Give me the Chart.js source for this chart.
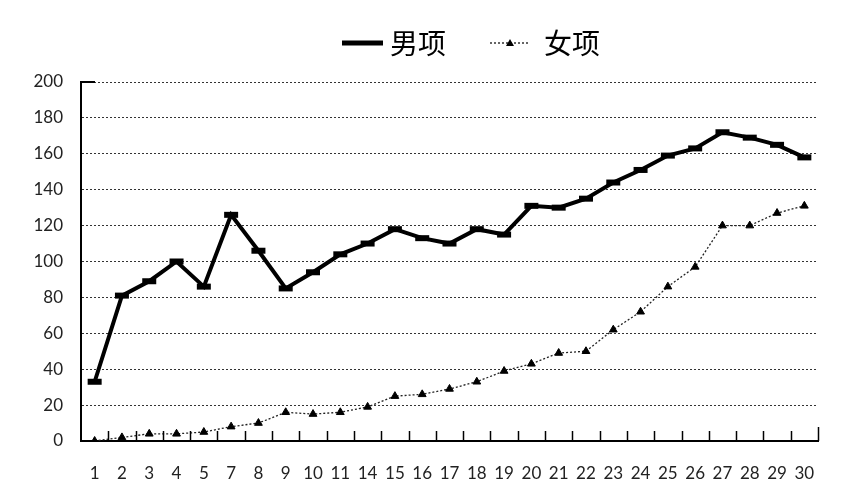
<!DOCTYPE html>
<html>
<head>
<meta charset="utf-8">
<script src="https://cdn.jsdelivr.net/npm/chart.js@4.4.1/dist/chart.umd.min.js"></script>
<style>
  body { margin: 0; background: #fff; }
  #wrap { width: 856px; height: 504px; }
</style>
</head>
<body>
<div id="wrap"><canvas id="chart"></canvas></div>
<script>
var categories = ['1', '2', '3', '4', '5', '7', '8', '9', '10', '11', '14', '15', '16', '17',
    '18', '19', '20', '21', '22', '23', '24', '25', '26', '27', '28', '29', '30'];
var menValues = [33, 81, 89, 100, 86, 126, 106, 85, 94, 104, 110, 118, 113, 110,
    118, 115, 131, 130, 135, 144, 151, 159, 163, 172, 169, 165, 158];
var womenValues = [0, 2, 4, 4, 5, 8, 10, 16, 15, 16, 19, 25, 26, 29,
    33, 39, 43, 49, 50, 62, 72, 86, 97, 120, 120, 127, 131];
var yTicks = [0, 20, 40, 60, 80, 100, 120, 140, 160, 180, 200];
var seriesNames = ['男项', '女项'];

// legend + small tick marks between categories
var extras = {
    id: 'extras',
    afterDraw: function (chart) {
        var ctx = chart.ctx;
        var area = chart.chartArea;
        var n = categories.length;
        var w = (area.right - area.left) / n;
        ctx.save();
        ctx.strokeStyle = '#000';
        ctx.lineWidth = 1.5;
        for (var i = 1; i <= n; i++) {
            var px = Math.round(area.left + i * w) + 0.5;
            ctx.beginPath();
            ctx.moveTo(px, area.bottom);
            ctx.lineTo(px, area.bottom - (i === n ? 14 : 10));
            ctx.stroke();
        }
        // top tick on y axis
        ctx.lineWidth = 2;
        ctx.beginPath();
        ctx.moveTo(area.left, area.top);
        ctx.lineTo(area.left + 14, area.top);
        ctx.stroke();

        // legend
        var ly = 43;
        ctx.lineWidth = 5;
        ctx.beginPath();
        ctx.moveTo(342, ly);
        ctx.lineTo(383, ly);
        ctx.stroke();
        ctx.font = '28px "Noto Sans CJK SC"';
        ctx.fillStyle = '#000';
        ctx.textBaseline = 'middle';
        ctx.fillText(seriesNames[0], 390, ly);

        ctx.lineWidth = 1.2;
        ctx.setLineDash([2, 2]);
        ctx.beginPath();
        ctx.moveTo(490, ly);
        ctx.lineTo(530, ly);
        ctx.stroke();
        ctx.setLineDash([]);
        ctx.beginPath();
        ctx.moveTo(510, ly - 4);
        ctx.lineTo(514, ly + 3);
        ctx.lineTo(506, ly + 3);
        ctx.closePath();
        ctx.fill();
        ctx.fillText(seriesNames[1], 544, ly);
        ctx.restore();
    }
};

var ctx = document.getElementById('chart').getContext('2d');
var chart = new Chart(ctx, {
    type: 'line',
    data: {
        labels: categories,
        datasets: [
            {
                label: seriesNames[0],
                data: menValues,
                borderColor: '#000',
                backgroundColor: '#000',
                borderWidth: 4,
                pointStyle: 'line',
                pointRadius: 7,
                pointBorderWidth: 6,
                pointBorderColor: '#000',
                tension: 0
            },
            {
                label: seriesNames[1],
                data: womenValues,
                borderColor: '#222',
                backgroundColor: '#000',
                borderWidth: 1.3,
                borderDash: [2, 2],
                pointStyle: 'triangle',
                pointRadius: 4.5,
                pointBorderWidth: 1,
                pointBorderColor: '#000',
                pointBackgroundColor: '#000',
                tension: 0
            }
        ]
    },
    options: {
        responsive: true,
        maintainAspectRatio: false,
        animation: false,
        layout: { padding: { top: 82, right: 38, bottom: 0, left: 0 } },
        plugins: {
            legend: { display: false },
            tooltip: { enabled: false }
        },
        scales: {
            x: {
                offset: true,
                grid: { display: false },
                border: { display: true, color: '#000', width: 2 },
                ticks: {
                    color: '#222',
                    font: { family: 'Lato', size: 17 },
                    padding: 14,
                    maxRotation: 0,
                    autoSkip: false
                },
                afterFit: function (s) { s.height = 63; }
            },
            y: {
                min: 0,
                max: 200,
                grid: { color: '#333', lineWidth: 1, drawTicks: false },
                border: { display: true, color: '#000', width: 2, dash: [2, 2] },
                ticks: {
                    color: '#222',
                    font: { family: 'Lato', size: 17 },
                    padding: 18
                },
                afterBuildTicks: function (s) {
                    s.ticks = yTicks.map(function (v) { return { value: v }; });
                },
                afterFit: function (s) { s.width = 81; }
            }
        }
    },
    plugins: [extras]
});
</script>
</body>
</html>
